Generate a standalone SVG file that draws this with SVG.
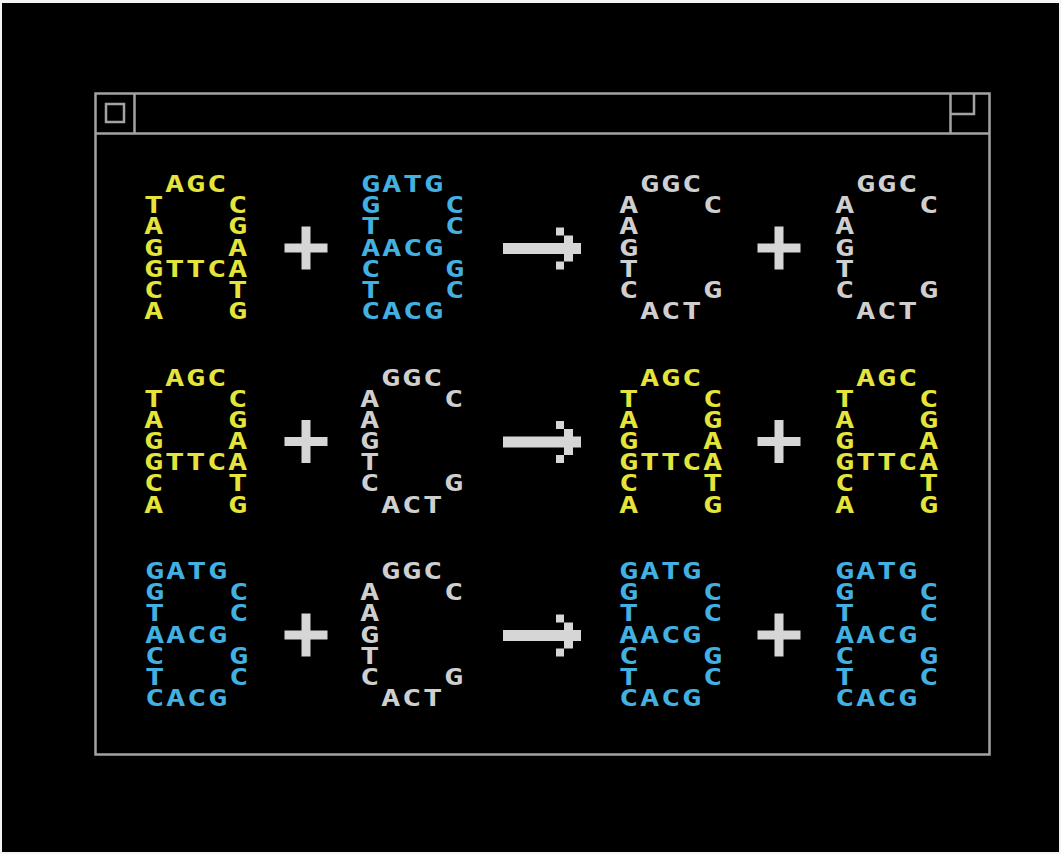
<svg xmlns="http://www.w3.org/2000/svg" width="1061" height="854" viewBox="0 0 1061 854">
<style>
.t{font-family:"DejaVu Sans Mono","Liberation Mono",monospace;font-weight:bold;font-size:23px;letter-spacing:1.15px;white-space:pre}
.y{fill:#e4e43a}
.b{fill:#42b0e0}
.w{fill:#cfcfcf}
.fr{fill:none;stroke:#a3a3a3;stroke-width:2.5}
.op{fill:#d6d6d6}
</style>
<defs>
<path id="plus" d="M-21.5,-4.5H-4.5V-21.5H4.5V-4.5H21.5V4.5H4.5V21.5H-4.5V4.5H-21.5Z"/>
<path id="arrow" d="M0,-5.5H61V-13H53V-21H61V-13H70V-5.5H78V5.5H70V13H61V21H53V13H61V5.5H0Z"/>
<g id="gA">
<text class="t" y="0" xml:space="preserve"> AGC</text>
<text class="t" y="21.2" xml:space="preserve">T   C</text>
<text class="t" y="42.4" xml:space="preserve">A   G</text>
<text class="t" y="63.6" xml:space="preserve">G   A</text>
<text class="t" y="84.8" xml:space="preserve">GTTCA</text>
<text class="t" y="106" xml:space="preserve">C   T</text>
<text class="t" y="127.2" xml:space="preserve">A   G</text>
</g>
<g id="gB">
<text class="t" y="0" xml:space="preserve">GATG</text>
<text class="t" y="21.2" xml:space="preserve">G   C</text>
<text class="t" y="42.4" xml:space="preserve">T   C</text>
<text class="t" y="63.6" xml:space="preserve">AACG</text>
<text class="t" y="84.8" xml:space="preserve">C   G</text>
<text class="t" y="106" xml:space="preserve">T   C</text>
<text class="t" y="127.2" xml:space="preserve">CACG</text>
</g>
<g id="gC">
<text class="t" y="0" xml:space="preserve"> GGC</text>
<text class="t" y="21.2" xml:space="preserve">A   C</text>
<text class="t" y="42.4" xml:space="preserve">A</text>
<text class="t" y="63.6" xml:space="preserve">G</text>
<text class="t" y="84.8" xml:space="preserve">T</text>
<text class="t" y="106" xml:space="preserve">C   G</text>
<text class="t" y="127.2" xml:space="preserve"> ACT</text>
</g>
</defs>
<rect width="1061" height="854" fill="#f4f4f4"/>
<rect x="2" y="3" width="1057" height="849" fill="#000"/>
<g id="window">
<rect class="fr" x="95.5" y="93.5" width="894" height="661"/>
<line class="fr" x1="95.5" y1="133.5" x2="989.5" y2="133.5"/>
<line class="fr" x1="134.5" y1="93.5" x2="134.5" y2="133.5"/>
<rect class="fr" x="106" y="104" width="18" height="18"/>
<line class="fr" x1="950.5" y1="93.5" x2="950.5" y2="133.5"/>
<polyline class="fr" points="950.5,114 974,114 974,93.5"/>
</g>
<g id="node-r1-A" class="y"><use href="#gA" transform="translate(144,192) scale(1.4,1)"/></g>
<g id="node-r1-B" class="b"><use href="#gB" transform="translate(361,192) scale(1.4,1)"/></g>
<g id="node-r1-C1" class="w"><use href="#gC" transform="translate(619,192) scale(1.4,1)"/></g>
<g id="node-r1-C2" class="w"><use href="#gC" transform="translate(835,192) scale(1.4,1)"/></g>
<g id="node-r2-A1" class="y"><use href="#gA" transform="translate(144,385.5) scale(1.4,1)"/></g>
<g id="node-r2-C" class="w"><use href="#gC" transform="translate(360,385.5) scale(1.4,1)"/></g>
<g id="node-r2-A2" class="y"><use href="#gA" transform="translate(619,385.5) scale(1.4,1)"/></g>
<g id="node-r2-A3" class="y"><use href="#gA" transform="translate(835,385.5) scale(1.4,1)"/></g>
<g id="node-r3-B1" class="b"><use href="#gB" transform="translate(145,579) scale(1.4,1)"/></g>
<g id="node-r3-C" class="w"><use href="#gC" transform="translate(360,579) scale(1.4,1)"/></g>
<g id="node-r3-B2" class="b"><use href="#gB" transform="translate(619,579) scale(1.4,1)"/></g>
<g id="node-r3-B3" class="b"><use href="#gB" transform="translate(835,579) scale(1.4,1)"/></g>
<g id="plus-signs" class="op">
<use href="#plus" x="306" y="248"/>
<use href="#plus" x="779" y="248"/>
<use href="#plus" x="306" y="441.5"/>
<use href="#plus" x="779" y="441.5"/>
<use href="#plus" x="306" y="635"/>
<use href="#plus" x="779" y="635"/>
</g>
<g id="connectors" class="op">
<use href="#arrow" x="503" y="248.5"/>
<use href="#arrow" x="503" y="442"/>
<use href="#arrow" x="503" y="635.5"/>
</g>
</svg>
